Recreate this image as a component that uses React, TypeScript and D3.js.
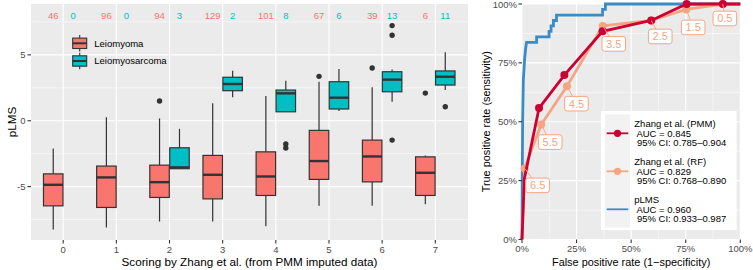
import React from "react";
import * as d3 from "d3";

// ---------- data: left panel ----------
const categories = ["0", "1", "2", "3", "4", "5", "6", "7"];
const groups = ["Leiomyoma", "Leiomyosarcoma"];
const countLeiomyoma = [46, 96, 94, 129, 101, 67, 39, 6];
const countLeiomyosarcoma = [0, 0, 3, 2, 8, 6, 13, 11];

const lmLower = [-8.25, -8.1, -7.65, -7.65, -8.0, -6.46, -6.46, -6.33];
const lmQ1 = [-6.46, -6.58, -5.82, -5.93, -5.67, -4.45, -4.64, -5.67];
const lmMedian = [-4.86, -4.3, -4.66, -4.1, -4.23, -3.06, -2.71, -3.95];
const lmQ3 = [-4.03, -3.44, -3.37, -2.63, -2.36, -0.73, -1.47, -2.74];
const lmUpper = [-2.1, 0.26, 0.18, 1.32, 1.88, 2.96, 2.54, -2.63];
const lmOutliers: number[][] = [[], [], [1.5], [], [], [3.37], [4.0], [2.1]];

const lmsLower = [null, null, -3.66, 1.78, 0.68, 0.74, 1.44, 2.33];
const lmsQ1 = [null, null, -3.64, 2.28, 0.68, 0.89, 2.2, 2.71];
const lmsMedian = [null, null, -3.54, 2.79, 2.08, 1.75, 3.12, 3.34];
const lmsQ3 = [null, null, -2.05, 3.3, 2.33, 2.96, 3.72, 3.78];
const lmsUpper = [null, null, -0.61, 3.8, 3.04, 3.93, 3.88, 5.2];
const lmsOutliers: number[][] = [[], [], [], [], [-1.77, -2.07], [], [7.22, 6.49, -1.47], [1.06]];

const yTicksLeft = [-5, 0, 5];
const yMinorLeft = [-7.5, -2.5, 2.5, 7.5];

// ---------- data: right panel (ROC) ----------
const fprPMM = [0, 0.0104, 0.078, 0.194, 0.369, 0.592, 0.754, 0.92, 1];
const tprPMM = [0, 0.256, 0.558, 0.698, 0.884, 0.93, 1, 1, 1];
const fprRF = [0, 0.012, 0.088, 0.206, 0.37, 0.592, 0.752, 0.92, 1];
const tprRF = [0, 0.302, 0.488, 0.651, 0.907, 0.93, 0.977, 1, 1];
const thresholdLabels = ["6.5", "5.5", "4.5", "3.5", "2.5", "1.5", "0.5"];
const fprPLMS = [0, 0.001, 0.003, 0.006, 0.012, 0.017, 0.021, 0.067, 0.067, 0.124, 0.124, 0.133, 0.133, 0.144, 0.144, 0.158, 0.158, 0.369, 0.369, 0.382, 0.382, 1];
const tprPLMS = [0, 0.256, 0.512, 0.674, 0.767, 0.814, 0.837, 0.837, 0.86, 0.86, 0.884, 0.884, 0.907, 0.907, 0.93, 0.93, 0.953, 0.953, 0.977, 0.977, 1, 1];
const rocTicks = [0, 0.25, 0.5, 0.75, 1];
const rocMinor = [0.125, 0.375, 0.625, 0.875];
const legendNames = ["Zhang et al. (PMM)", "Zhang et al. (RF)", "pLMS"];
const legendAUC = ["0.845", "0.829", "0.960"];
const legendCI = ["0.785\u20130.904", "0.768\u20130.890", "0.933\u20130.987"];

// ---------- styles ----------
const FONT = "'Liberation Sans', Arial, Helvetica, sans-serif";
const PANEL = "#EBEBEB";
const TICK_TXT = "#4D4D4D";
const DARK = "#333333";
const C_LM = "#F8766D";
const C_LMS = "#00BFC4";
const C_PMM = "#CC0033";
const C_RF = "#F4A582";
const C_PLMS = "#3B8CC4";
// label offsets (px) for repelled threshold labels
const labelOffsets = [[13, 17], [9, 17.5], [9.5, 17.5], [11, 18], [9, 16], [7, 18], [2, 14.5]];

export default function App() {
  // left panel geometry
  const L = { x0: 31, x1: 468, y0: 4, y1: 240 };
  const yL = d3.scaleLinear().domain([-9.05, 8.86]).range([L.y1, L.y0]);
  const xL = d3.scalePoint<string>().domain(categories).range([63.2, 435.3]);
  const step = xL.step();
  const dodge = 0.1875 * step;
  const boxW = 19.5;

  // right panel geometry
  const R = { x0: 522, x1: 740.3, y0: 4, y1: 239.5 };
  const xR = d3.scaleLinear().domain([0, 1]).range([R.x0, R.x1]);
  const yR = d3.scaleLinear().domain([0, 1]).range([R.y1, R.y0]);
  const line = d3.line<[number, number]>().x((d) => xR(d[0])).y((d) => yR(d[1]));
  const ptsPMM = fprPMM.map((f, i) => [f, tprPMM[i]] as [number, number]);
  const ptsRF = fprRF.map((f, i) => [f, tprRF[i]] as [number, number]);
  const ptsPLMS = fprPLMS.map((f, i) => [f, tprPLMS[i]] as [number, number]);

  const boxes: any[] = [];
  categories.forEach((c, i) => {
    boxes.push({ cx: xL(c)! - dodge, fill: C_LM, lo: lmLower[i], q1: lmQ1[i], med: lmMedian[i], q3: lmQ3[i], hi: lmUpper[i], out: lmOutliers[i] });
    if (lmsMedian[i] !== null)
      boxes.push({ cx: xL(c)! + dodge, fill: C_LMS, lo: lmsLower[i], q1: lmsQ1[i], med: lmsMedian[i], q3: lmsQ3[i], hi: lmsUpper[i], out: lmsOutliers[i] });
  });

  return (
    <svg width={753} height={270} style={{ position: "absolute", left: 0, top: 0, background: "#fff" }} fontFamily={FONT}>
      {/* ---------------- LEFT PANEL ---------------- */}
      <rect x={L.x0} y={L.y0} width={L.x1 - L.x0} height={L.y1 - L.y0} fill={PANEL} />
      {yMinorLeft.map((v) => (
        <line key={"ym" + v} x1={L.x0} x2={L.x1} y1={yL(v)} y2={yL(v)} stroke="#fff" strokeWidth={0.55} />
      ))}
      {yTicksLeft.map((v) => (
        <line key={"yM" + v} x1={L.x0} x2={L.x1} y1={yL(v)} y2={yL(v)} stroke="#fff" strokeWidth={1.1} />
      ))}
      {categories.map((c) => (
        <line key={"xg" + c} x1={xL(c)} x2={xL(c)} y1={L.y0} y2={L.y1} stroke="#fff" strokeWidth={1.1} />
      ))}
      {boxes.map((b, i) => (
        <g key={"b" + i}>
          <line x1={b.cx} x2={b.cx} y1={yL(b.hi)} y2={yL(b.q3)} stroke={DARK} strokeWidth={1.2} />
          <line x1={b.cx} x2={b.cx} y1={yL(b.q1)} y2={yL(b.lo)} stroke={DARK} strokeWidth={1.2} />
          <rect x={b.cx - boxW / 2} y={yL(b.q3)} width={boxW} height={Math.max(0.5, yL(b.q1) - yL(b.q3))} fill={b.fill} stroke={DARK} strokeWidth={1.2} />
          <line x1={b.cx - boxW / 2} x2={b.cx + boxW / 2} y1={yL(b.med)} y2={yL(b.med)} stroke={DARK} strokeWidth={2.4} />
          {b.out.map((o: number, j: number) => (
            <circle key={j} cx={b.cx} cy={yL(o)} r={2.7} fill={DARK} />
          ))}
        </g>
      ))}
      {categories.map((c, i) => (
        <g key={"cnt" + c} fontSize={9.5} textAnchor="middle">
          <text x={xL(c)! - dodge} y={yL(8) + 3.4} fill={C_LM}>{countLeiomyoma[i]}</text>
          <text x={xL(c)! + dodge} y={yL(8) + 3.4} fill={C_LMS}>{countLeiomyosarcoma[i]}</text>
        </g>
      ))}
      {/* left legend */}
      {groups.map((g, i) => {
        const cy = 43.3 + i * 17.7;
        const cx = 79.7;
        return (
          <g key={"lg" + g}>
            <line x1={cx} x2={cx} y1={cy - 8.3} y2={cy + 8.3} stroke={DARK} strokeWidth={1.1} />
            <rect x={cx - 7} y={cy - 5.2} width={14} height={10.4} fill={i === 0 ? C_LM : C_LMS} stroke={DARK} strokeWidth={1.1} />
            <line x1={cx - 7} x2={cx + 7} y1={cy} y2={cy} stroke={DARK} strokeWidth={2} />
            <text x={94.3} y={cy + 3.4} fontSize={9.5} fill="#000">{g}</text>
          </g>
        );
      })}
      {/* left axes */}
      {yTicksLeft.map((v) => (
        <g key={"yt" + v}>
          <line x1={27.5} x2={L.x0} y1={yL(v)} y2={yL(v)} stroke={DARK} strokeWidth={1.1} />
          <text x={25.5} y={yL(v) + 3.3} fontSize={9.5} fill={TICK_TXT} textAnchor="end">{v < 0 ? "-" + Math.abs(v) : String(v)}</text>
        </g>
      ))}
      {categories.map((c) => (
        <g key={"xt" + c}>
          <line x1={xL(c)} x2={xL(c)} y1={L.y1} y2={L.y1 + 3.5} stroke={DARK} strokeWidth={1.1} />
          <text x={xL(c)} y={252.5} fontSize={9.5} fill={TICK_TXT} textAnchor="middle">{c}</text>
        </g>
      ))}
      <text x={(L.x0 + L.x1) / 2} y={265.6} fontSize={11.7} textAnchor="middle" fill="#000">Scoring by Zhang et al. (from PMM imputed data)</text>
      <text transform={`translate(${16.2},${(L.y0 + L.y1) / 2}) rotate(-90)`} fontSize={11.7} textAnchor="middle" fill="#000">pLMS</text>

      {/* ---------------- RIGHT PANEL ---------------- */}
      <rect x={R.x0} y={R.y0} width={R.x1 - R.x0} height={R.y1 - R.y0} fill={PANEL} />
      {rocMinor.map((v) => (
        <g key={"rm" + v}>
          <line x1={R.x0} x2={R.x1} y1={yR(v)} y2={yR(v)} stroke="#fff" strokeWidth={0.55} />
          <line x1={xR(v)} x2={xR(v)} y1={R.y0} y2={R.y1} stroke="#fff" strokeWidth={0.55} />
        </g>
      ))}
      {rocTicks.map((v) => (
        <g key={"rM" + v}>
          <line x1={R.x0} x2={R.x1} y1={yR(v)} y2={yR(v)} stroke="#fff" strokeWidth={1.1} />
          <line x1={xR(v)} x2={xR(v)} y1={R.y0} y2={R.y1} stroke="#fff" strokeWidth={1.1} />
        </g>
      ))}
      <path d={line(ptsPLMS)!} fill="none" stroke={C_PLMS} strokeWidth={2.8} />
      <path d={line(ptsRF)!} fill="none" stroke={C_RF} strokeWidth={2.8} />
      {ptsRF.slice(1, 8).map((p, i) => (
        <circle key={"rf" + i} cx={xR(p[0])} cy={yR(p[1])} r={4} fill={C_RF} />
      ))}
      <path d={line(ptsPMM)!} fill="none" stroke={C_PMM} strokeWidth={2.8} />
      {ptsPMM.slice(2, 8).map((p, i) => (
        <circle key={"pm" + i} cx={xR(p[0])} cy={yR(p[1])} r={4} fill={C_PMM} />
      ))}
      {/* threshold labels */}
      {thresholdLabels.map((t, i) => {
        const p = ptsRF[i + 1];
        const px = xR(p[0]);
        const py = yR(p[1]);
        const lx = px + labelOffsets[i][0];
        const ly = py + labelOffsets[i][1];
        return (
          <g key={"tl" + t}>
            <line x1={px} y1={py} x2={lx} y2={ly} stroke={C_RF} strokeWidth={0.9} />
            <rect x={lx - 11.8} y={ly - 7.3} width={23.6} height={14.6} rx={2.5} fill="#fff" stroke={C_RF} strokeWidth={1} />
            <text x={lx} y={ly + 3.9} fontSize={11} textAnchor="middle" fill={C_RF}>{t}</text>
          </g>
        );
      })}
      {/* ROC legend */}
      <rect x={601} y={111} width={135.7} height={119} fill="#fff" />
      <rect x={605} y={114.3} width={25} height={113.4} fill="#F2F2F2" />
      {legendNames.map((n, i) => {
        const cy = 133.3 + i * 38;
        const col = [C_PMM, C_RF, C_PLMS][i];
        return (
          <g key={"rl" + n}>
            <line x1={606.7} x2={628.3} y1={cy} y2={cy} stroke={col} strokeWidth={1.8} />
            {i < 2 && <circle cx={617.5} cy={cy} r={3.6} fill={col} />}
            <g fontSize={9.5} fill="#000">
              <text x={634.3} y={cy - 9.7 + 3.4}>{n}</text>
              <text x={634.3} y={cy + 3.4} xmlSpace="preserve">{" AUC = " + legendAUC[i]}</text>
              <text x={634.3} y={cy + 9.7 + 3.4} xmlSpace="preserve">{" 95% CI: " + legendCI[i]}</text>
            </g>
          </g>
        );
      })}
      {/* right axes */}
      {rocTicks.map((v) => (
        <g key={"rt" + v}>
          <line x1={518.5} x2={R.x0} y1={yR(v)} y2={yR(v)} stroke={DARK} strokeWidth={1.1} />
          <text x={517} y={Math.max(yR(v) + 3.3, 8)} fontSize={9.5} fill={TICK_TXT} textAnchor="end">{d3.format(".0%")(v)}</text>
          <line x1={xR(v)} x2={xR(v)} y1={R.y1} y2={R.y1 + 3.5} stroke={DARK} strokeWidth={1.1} />
          <text x={xR(v)} y={251.8} fontSize={9.5} fill={TICK_TXT} textAnchor="middle">{d3.format(".0%")(v)}</text>
        </g>
      ))}
      <text x={(R.x0 + R.x1) / 2} y={265.6} fontSize={10.9} textAnchor="middle" fill="#000">False positive rate (1{"\u2212"}specificity)</text>
      <text transform={`translate(${490},${(R.y0 + R.y1) / 2}) rotate(-90)`} fontSize={10.9} textAnchor="middle" fill="#000">True positive rate (sensitivity)</text>
    </svg>
  );
}
